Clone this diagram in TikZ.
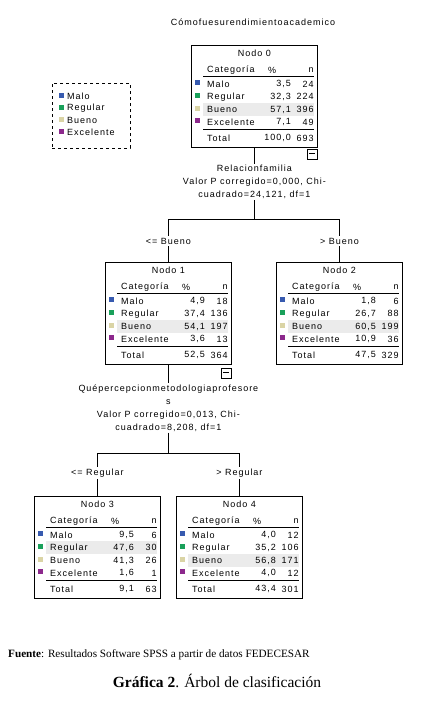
\documentclass[tikz,border=0pt]{standalone}
\usepackage{fontspec}
\newfontfamily\spss[LetterSpace=11]{Liberation Sans}
\newfontfamily\pief{Liberation Serif}
\usetikzlibrary{calc,positioning}
\definecolor{cmalo}{RGB}{55,90,175}
\definecolor{cregular}{RGB}{25,160,90}
\definecolor{cbueno}{RGB}{218,212,165}
\definecolor{cexcel}{RGB}{140,40,140}

% caja de un nodo: nombre, esquina, numero, fila resaltada, filas, total %, total n
\newcommand{\nodo}[7]{%
  \node[caja] (#1) at (#2) {};
  \fill[resalte] ($(#1.north west)+(12,{32.6+(#4-1)*12.8})$) rectangle ($(#1.north east)+(-4,{45.4+(#4-1)*12.8})$);
  \node[txt] (#1-tit) at ($(#1.north)+(0,8)$) {Nodo #3};
  \node[txt, anchor=west] (#1-hc) at ($(#1.north west)+(15,25)$) {Categoría};
  \node[txt] (#1-hp) at ($(#1.north west)+(81,25)$) {\%};
  \node[txt, anchor=east] (#1-hn) at ($(#1.north east)+(-3,25)$) {n};
  \draw[fina] ($(#1.north west)+(12,31)$) -- ($(#1.north east)+(-4,31)$);
  \foreach \cat/\col/\pct/\num [count=\i] in {#5} {
    \node[cuadro, fill=\col] (#1-q\i) at ($(#1.north west)+(6.5,{37.5+(\i-1)*12.8})$) {};
    \node[txt, anchor=west] (#1-c\i) at ($(#1.north west)+(15,{39+(\i-1)*12.8})$) {\cat};
    \node[txt, anchor=east] (#1-p\i) at ($(#1.north west)+(101,{39+(\i-1)*12.8})$) {\pct};
    \node[txt, anchor=east] (#1-n\i) at ($(#1.north east)+(-3,{39+(\i-1)*12.8})$) {\num};
  }
  \draw[gruesa] ($(#1.north west)+(12,84)$) -- ($(#1.north east)+(-4,84)$);
  \node[txt, anchor=west] (#1-tc) at ($(#1.north west)+(15,93)$) {Total};
  \node[txt, anchor=east] (#1-tp) at ($(#1.north west)+(101,93)$) {#6};
  \node[txt, anchor=east] (#1-tn) at ($(#1.north east)+(-3,93)$) {#7};
}

\begin{document}
\begin{tikzpicture}[x=1pt, y=-1pt,
  txt/.style={font=\spss\fontsize{9}{13}\selectfont, inner sep=1pt},
  caja/.style={draw, line width=0.8pt, anchor=north west, minimum width=126pt, minimum height=102pt, inner sep=0pt},
  cuadro/.style={minimum size=5pt, inner sep=0pt},
  resalte/.style={fill=black!8},
  fina/.style={line width=0.5pt},
  gruesa/.style={line width=0.9pt},
  rama/.style={line width=0.7pt},
  etiq/.style={txt, fill=white, inner sep=2pt},
  menos/.style={draw, line width=0.6pt, minimum size=10pt, inner sep=0pt},
  leyenda/.style={draw, dashed, line width=0.7pt, minimum width=78pt, minimum height=65pt}]
\useasboundingbox (0,0) rectangle (435,712);

% titulo
\node[txt] (t0) at (253,22) {Cómofuesurendimientoacademico};

% leyenda
\node[leyenda] (ley) at (91,115.5) {};
\foreach \cat/\col [count=\i] in {Malo/cmalo, Regular/cregular, Bueno/cbueno, Excelente/cexcel} {
  \node[cuadro, fill=\col] (ley-q\i) at (61,{95+(\i-1)*12}) {};
  \node[txt, anchor=west] (ley-t\i) at (66,{96.5+(\i-1)*12}) {\cat};
}

% nodos
\nodo{n0}{191,45}{0}{3}{Malo/cmalo/3{,}5/24, Regular/cregular/32{,}3/224, Bueno/cbueno/57{,}1/396, Excelente/cexcel/7{,}1/49}{100{,}0}{693}
\nodo{n1}{105,262}{1}{3}{Malo/cmalo/4{,}9/18, Regular/cregular/37{,}4/136, Bueno/cbueno/54{,}1/197, Excelente/cexcel/3{,}6/13}{52{,}5}{364}
\nodo{n2}{276,262}{2}{3}{Malo/cmalo/1{,}8/6, Regular/cregular/26{,}7/88, Bueno/cbueno/60{,}5/199, Excelente/cexcel/10{,}9/36}{47{,}5}{329}
\nodo{n3}{34,496}{3}{2}{Malo/cmalo/9{,}5/6, Regular/cregular/47{,}6/30, Bueno/cbueno/41{,}3/26, Excelente/cexcel/1{,}6/1}{9{,}1}{63}
\nodo{n4}{176,496}{4}{3}{Malo/cmalo/4{,}0/12, Regular/cregular/35{,}2/106, Bueno/cbueno/56{,}8/171, Excelente/cexcel/4{,}0/12}{43{,}4}{301}

% botones de plegado
\node[menos] (c0) at ($(n0.south east)+(-6,6)$) {\rule{6pt}{0.8pt}};
\node[menos] (c1) at ($(n1.south east)+(-6,8)$) {\rule{6pt}{0.8pt}};

% divisiones
\node[txt, align=center] (s0) at (n0.south |- 0,182) {Relacionfamilia\\Valor P corregido=0,000, Chi-\\cuadrado=24,121, df=1};
\node[txt, align=center] (s1) at (n1.south |- 0,408) {Quépercepcionmetodologiaprofesore\\s\\Valor P corregido=0,013, Chi-\\cuadrado=8,208, df=1};
\coordinate (j0) at (n0.south |- 0,219);
\coordinate (j1) at (n1.south |- 0,453);

\draw[rama] (n0.south) -- (s0.north);
\draw[rama] (s0.south) -- (j0);
\draw[rama] (j0) -| (n1.north);
\draw[rama] (j0) -| (n2.north);
\draw[rama] (n1.south) -- (s1.north);
\draw[rama] (s1.south) -- (j1);
\draw[rama] (j1) -| (n3.north);
\draw[rama] (j1) -| (n4.north);

\node[etiq] (e1) at (n1.north |- 0,241) {<= Bueno};
\node[etiq] (e2) at (n2.north |- 0,241) {> Bueno};
\node[etiq] (e3) at (n3.north |- 0,473) {<= Regular};
\node[etiq] (e4) at (n4.north |- 0,473) {> Regular};

% pie
\node[font=\pief\fontsize{11.2}{13}\selectfont, anchor=west, inner sep=0pt] (f0) at (8,655) {\textbf{Fuente}: Resultados Software SPSS a partir de datos FEDECESAR};
\node[font=\pief\fontsize{15.5}{18}\selectfont, inner sep=0pt] (g0) at (217,681) {\textbf{Gráfica 2}. Árbol de clasificación};
\end{tikzpicture}
\end{document}
